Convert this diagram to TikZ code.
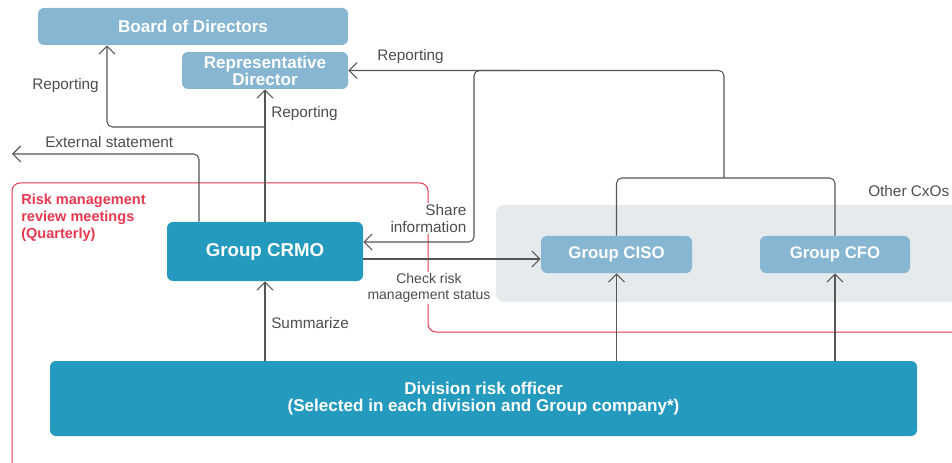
\documentclass[tikz,border=0pt]{standalone}
\usepackage{fontspec}
\setmainfont{Liberation Sans}
\usetikzlibrary{arrows.meta}
\definecolor{lblue}{HTML}{86B6D2}
\definecolor{dblue}{HTML}{249ABF}
\definecolor{panelgray}{HTML}{E5EAED}
\definecolor{conn}{HTML}{555555}
\definecolor{labelgray}{HTML}{4D4D4D}
\definecolor{rmred}{HTML}{E8384F}
\tikzset{
  lightbox/.style={fill=lblue, rounded corners=4.5pt, inner sep=0pt, text=white, align=center},
  darkbox/.style={fill=dblue, rounded corners=4.5pt, inner sep=0pt, text=white, align=center},
  conline/.style={draw=conn, line width=0.8pt, rounded corners=4pt},
  arr/.style={conline, -{Straight Barb[length=6pt,width=12pt,line width=0.8pt]}},
  lbl/.style={inner sep=0pt, text=labelgray, font=\fontsize{11.5pt}{12.75pt}\selectfont},
  whitelbl/.style={lbl, fill=white, inner xsep=1pt, inner ysep=1pt},
}
\begin{document}
\begin{tikzpicture}[x=0.75pt,y=-0.75pt]
\useasboundingbox (0,0) rectangle (952,463);
\clip (0,0) rectangle (952,463);
% panel
\fill[panelgray, rounded corners=6pt] (496,205) rectangle (980,302);
% red frame
\draw[rmred, line width=0.75pt, rounded corners=6pt] (12,470) -- (12,183) -- (428,183) -- (428,332) -- (980,332);
% boxes
\node[lightbox, minimum width=232.5pt, minimum height=27.75pt, font=\bfseries\fontsize{12.8pt}{12.75pt}\selectfont] (board) at (193,26.5) {Board of Directors};
\node[lightbox, minimum width=124.5pt, minimum height=27.75pt, font=\bfseries\fontsize{12.8pt}{12.75pt}\selectfont] (rep) at (265,70.5) {Representative\\Director};
\node[darkbox, minimum width=147pt, minimum height=44.25pt, font=\bfseries\fontsize{14pt}{15pt}\selectfont] (crmo) at (265,251.5) {Group CRMO};
\node[lightbox, minimum width=113.25pt, minimum height=27.75pt, font=\bfseries\fontsize{12.6pt}{12.75pt}\selectfont] (ciso) at (616.5,254.5) {Group CISO};
\node[lightbox, minimum width=112.5pt, minimum height=27.75pt, font=\bfseries\fontsize{12.6pt}{12.75pt}\selectfont] (cfo) at (835,254.5) {Group CFO};
\node[darkbox, minimum width=650.25pt, minimum height=56.25pt, font=\bfseries\fontsize{12.8pt}{12.75pt}\selectfont] (div) at (483.5,398.5) {Division risk officer\\(Selected in each division and Group company*)};
% coordinates
\coordinate (j1) at (265,127);
\coordinate (b1) at (107,127);
\coordinate (e1) at (199,154);
\coordinate (ext) at (12,154);
\coordinate (t1) at (724,178);
\coordinate (t2) at (724,70.5);
\coordinate (s0) at (520,70.5);
\coordinate (s1) at (474,70.5);
\coordinate (s2) at (474,242);
\coordinate (c1) at (450,259);
% connectors
\draw[arr] (crmo.north) -- (rep.south);
\draw[arr] (j1) -- (b1) -- (b1 |- board.south);
\draw[arr] (crmo.north -| e1) -- (e1) -- (ext);
\draw[arr] (t1) -- (t2) -- (rep.east);
\draw[arr] (s0) -- (s1) -- (s2) -- (s2 -| crmo.east);
\draw[conline] (ciso.north) |- (t1) -| (cfo.north);
\draw[arr] (crmo.east |- c1) -- (ciso.west |- c1);
\draw[arr] (div.north -| crmo.south) -- (crmo.south);
\draw[arr] (div.north -| ciso.south) -- (ciso.south);
\draw[arr] (div.north -| cfo.south) -- (cfo.south);
% labels
\node[lbl, anchor=base west] (l1) at (32,90) {Reporting};
\node[lbl, anchor=base west] (l2) at (271,118) {Reporting};
\node[lbl, anchor=base west] (l3) at (377,61) {Reporting};
\node[lbl, anchor=base west] (l4) at (45,148) {External statement};
\node[lbl, anchor=base west] (l5) at (271,328) {Summarize};
\node[lbl, anchor=base west] (l6) at (868,197) {Other CxOs};
\node[whitelbl, anchor=north east, align=right] (l7) at (468,203) {Share\\information};
\node[whitelbl, anchor=north, align=center, font=\fontsize{10.5pt}{12pt}\selectfont] (l8) at (429,272) {Check risk\\management status};
\node[inner sep=0pt, anchor=north west, align=left, text=rmred, font=\bfseries\fontsize{10.9pt}{12.75pt}\selectfont] (red) at (21,194) {Risk management\\review meetings\\(Quarterly)};
\end{tikzpicture}
\end{document}
